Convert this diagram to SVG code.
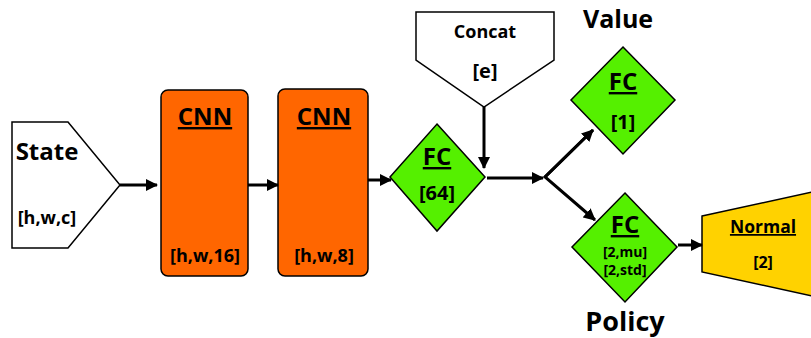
<svg xmlns="http://www.w3.org/2000/svg" width="811" height="338" viewBox="0 0 811 338">
<defs>
<marker id="ah" markerWidth="12" markerHeight="12" viewBox="0 0 12 12" refX="11" refY="6" orient="auto" markerUnits="userSpaceOnUse">
<path d="M0,0 L12,6 L0,12 Z" fill="#000"/>
</marker>
</defs>
<style>
text{font-family:"Open Sans","Noto Sans","Liberation Sans",sans-serif;font-weight:bold;fill:#000;text-anchor:middle}
.shape{stroke:#000;stroke-width:1.5}
.cnn{fill:#FF6600}
.fc{fill:#55F000}
.u{text-decoration:underline}
.conn line,.conn polyline{stroke:#000;stroke-width:3;fill:none}
</style>
<g id="state">
<path class="shape" d="M12,122 L68,122 L120,185 L68,248 L12,248 Z" fill="#fff"/>
<text x="47" y="160" font-size="24">State</text>
<text x="47" y="224" font-size="18">[h,w,c]</text>
</g>
<g id="cnn1">
<rect class="shape cnn" x="161" y="90" width="87" height="186" rx="7"/>
<text class="u" x="205" y="125" font-size="24">CNN</text>
<text x="205" y="262" font-size="18">[h,w,16]</text>
</g>
<g id="cnn2">
<rect class="shape cnn" x="278" y="89" width="90" height="187" rx="7"/>
<text class="u" x="324" y="125" font-size="24">CNN</text>
<text x="324" y="262" font-size="18">[h,w,8]</text>
</g>
<g id="fc64">
<path class="shape fc" d="M437,124 L485,177 L437,231 L390,177 Z"/>
<text class="u" x="437" y="165" font-size="24">FC</text>
<text x="437" y="200" font-size="20">[64]</text>
</g>
<g id="concat">
<path class="shape" d="M416,12 L554,12 L554,60 L484,107 L416,60 Z" fill="#fff"/>
<text x="485" y="38" font-size="18">Concat</text>
<text x="485" y="78" font-size="20">[e]</text>
</g>
<g id="value">
<path class="shape fc" d="M623,47 L675,100 L623,154 L571,100 Z"/>
<text class="u" x="623" y="90" font-size="24">FC</text>
<text x="623" y="129" font-size="20">[1]</text>
<text x="618" y="28" font-size="25">Value</text>
</g>
<g id="policy">
<path class="shape fc" d="M625,193 L677,247 L625,302 L572,247 Z"/>
<text class="u" x="625" y="233" font-size="24">FC</text>
<text x="625" y="257" font-size="14">[2,mu]</text>
<text x="625" y="275" font-size="14">[2,std]</text>
<text x="625" y="331" font-size="27">Policy</text>
</g>
<g id="normal">
<path class="shape" d="M702,216 L812,192 L812,296 L702,272 Z" fill="#FFD200"/>
<text class="u" x="763" y="233" font-size="17.5">Normal</text>
<text x="763" y="268" font-size="16">[2]</text>
</g>
<g class="conn" id="connectors">
<line x1="120" y1="185" x2="157" y2="185" marker-end="url(#ah)"/>
<line x1="248" y1="185" x2="278" y2="185" marker-end="url(#ah)"/>
<line x1="368" y1="180" x2="391" y2="180" marker-end="url(#ah)"/>
<line x1="484" y1="107" x2="484" y2="168" marker-end="url(#ah)"/>
<line x1="487" y1="178" x2="543" y2="178" marker-end="url(#ah)"/>
<polyline points="593,130 545,177 595,220" marker-end="url(#ah)"/>
<line x1="545" y1="177" x2="593" y2="130" marker-end="url(#ah)"/>
<line x1="678" y1="245" x2="702" y2="245" marker-end="url(#ah)"/>
</g>
</svg>
